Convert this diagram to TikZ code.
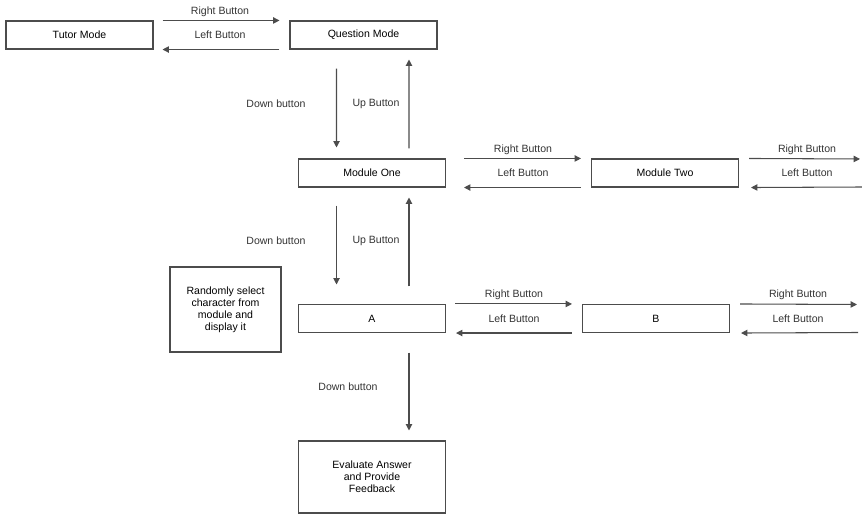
\documentclass[tikz,border=0pt]{standalone}
\usepackage{fontspec}
\setmainfont{Liberation Sans}
\usetikzlibrary{arrows.meta}

\tikzset{
  box/.style={draw=black!70, line width=0.6pt, inner sep=0pt, minimum width=2.94cm, minimum height=0.56cm, align=center},
  arr/.style={draw=black!70, line width=0.6pt, -{Triangle[length=3.6pt,width=3.6pt]}},
  lbl/.style={inner sep=0pt, text=black!80}
}

\begin{document}
\begin{tikzpicture}[x=0.02cm,y=-0.02cm,font=\fontsize{6}{6.8}\selectfont]
\useasboundingbox (0,0) rectangle (862,516);

\node[box] (tutor) at (79.5,35) {Tutor Mode};
\node[box] (qmode) at (363.5,35) {Question Mode};
\node[box] (mone) at (372,173) {Module One};
\node[box] (mtwo) at (665,173) {Module Two};
\node[box] (a) at (372,318.5) {A};
\node[box] (b) at (656,318.5) {B};
\node[box, minimum width=2.22cm, minimum height=1.7cm] (rand) at (225.5,309.5) {Randomly select\\character from\\module and\\display it};
\node[box, minimum height=1.44cm] (eval) at (372,477) {Evaluate Answer\\and Provide\\Feedback};

\coordinate (mtr) at (860,159);
\coordinate (mbr) at (862,187);
\coordinate (btr) at (857,304.5);
\coordinate (bbr) at (858,332.5);

\node[lbl] (rb1) at (220,12) {Right Button};
\node[lbl] (lb1) at (220,35) {Left Button};
\node[lbl] (rb2) at (523,150) {Right Button};
\node[lbl] (lb2) at (523,173) {Left Button};
\node[lbl] (rb3) at (807,150) {Right Button};
\node[lbl] (lb3) at (807,173) {Left Button};
\node[lbl] (rb4) at (514,295) {Right Button};
\node[lbl] (lb4) at (514,319) {Left Button};
\node[lbl] (rb5) at (798,295) {Right Button};
\node[lbl] (lb5) at (798,319) {Left Button};
\node[lbl] (db1) at (276,104) {Down button};
\node[lbl] (ub1) at (376,104) {Up Button};
\node[lbl] (db2) at (276,241) {Down button};
\node[lbl] (ub2) at (376,241) {Up Button};
\node[lbl] (db3) at (348,387) {Down button};

\draw[arr] ([xshift=0.18cm]tutor.north east) -- ([xshift=-0.2cm]qmode.north west);
\draw[arr] ([xshift=-0.2cm]qmode.south west) -- ([xshift=0.18cm]tutor.south east);
\draw[arr] ([xshift=0.36cm]mone.north east) -- ([xshift=-0.2cm]mtwo.north west);
\draw[arr] ([xshift=-0.2cm]mtwo.south west) -- ([xshift=0.36cm]mone.south east);
\draw[arr] ([xshift=0.2cm]mtwo.north east) -- (mtr);
\draw[arr] (mbr) -- ([xshift=0.24cm]mtwo.south east);
\draw[arr] ([xshift=0.18cm]a.north east) -- ([xshift=-0.2cm]b.north west);
\draw[arr] ([xshift=-0.2cm]b.south west) -- ([xshift=0.2cm]a.south east);
\draw[arr] ([xshift=0.2cm]b.north east) -- (btr);
\draw[arr] (bbr) -- ([xshift=0.22cm]b.south east);

\draw[arr] ([xshift=-0.54cm,yshift=-0.38cm]qmode.south) -- ([xshift=-0.71cm,yshift=0.22cm]mone.north);
\draw[arr] ([xshift=0.74cm,yshift=0.2cm]mone.north) -- ([xshift=0.91cm,yshift=-0.2cm]qmode.south);
\draw[arr] ([xshift=-0.71cm,yshift=-0.36cm]mone.south) -- ([xshift=-0.71cm,yshift=0.39cm]a.north);
\draw[arr] ([xshift=0.74cm,yshift=0.35cm]a.north) -- ([xshift=0.74cm,yshift=-0.2cm]mone.south);
\draw[arr] ([xshift=0.74cm,yshift=-0.39cm]a.south) -- ([xshift=0.74cm,yshift=0.2cm]eval.north);

\end{tikzpicture}
\end{document}
